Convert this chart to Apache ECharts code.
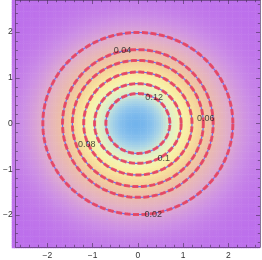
<!DOCTYPE html>
<html><head><meta charset="utf-8">
<script src="https://cdn.jsdelivr.net/npm/echarts@6/dist/echarts.min.js"></script>
<style>html,body{margin:0;padding:0;background:#fff}#c{width:262px;height:260px}</style>
</head><body><div id="c"></div>
<script>
// ---- data ----
const majorTicks = [-2, -1, 0, 1, 2];
const minorTicks = [-2.6,-2.4,-2.2,-1.8,-1.6,-1.4,-1.2,-0.8,-0.6,-0.4,-0.2,0.2,0.4,0.6,0.8,1.2,1.4,1.6,1.8,2.2,2.4,2.6];
const contourLevels  = [0.02, 0.04, 0.06, 0.08, 0.1, 0.12];
const contourRadiusX = [2.10, 1.665, 1.447, 1.197, 0.957, 0.707];
const contourRadiusY = [1.99, 1.615, 1.38, 1.125, 0.871, 0.654];
const labelText = ['0.04', '0.12', '0.06', '0.08', '0.1', '0.02'];
const labelX    = [-0.34, 0.36, 1.50, -1.13, 0.57, 0.34];
const labelY    = [1.59, 0.56, 0.11, -0.46, -0.76, -1.99];
// bivariate normal density shown as background (parameters estimated from the contours)
const densityPeak = 0.149, densitySigmaX = 1.07, densitySigmaY = 1.0;
const axisMin = -2.7, axisMax = 2.7, cellStep = 0.05;

const nCells = Math.round((axisMax - axisMin) / cellStep);
const cellCenters = [];
for (let i = 0; i < nCells; i++) cellCenters.push(+(axisMin + cellStep * (i + 0.5)).toFixed(4));
const field = [];
cellCenters.forEach((x, i) => cellCenters.forEach((y, j) => {
  field.push([i, j, densityPeak * Math.exp(-x * x / (2 * densitySigmaX * densitySigmaX) - y * y / (2 * densitySigmaY * densitySigmaY))]);
}));

const frameColor = 'rgba(70,45,85,0.6)';
const font = 'Liberation Sans';
function valAxis(pos, ticks, len, showLine, showLabel) {
  return {
    type: 'value', gridIndex: 0, position: pos, min: axisMin, max: axisMax, z: 10,
    axisLine: { show: showLine, onZero: false, lineStyle: { color: frameColor, width: 1 } },
    axisTick: { show: true, inside: true, length: len, customValues: ticks, lineStyle: { color: frameColor, width: 1 } },
    axisLabel: { show: showLabel, customValues: majorTicks, color: '#333', fontSize: 8.5, fontFamily: font,
      margin: (pos === 'bottom' ? 4 : 3), formatter: v => String(v).replace('-', '\u2212') },
    splitLine: { show: false }, minorTick: { show: false }
  };
}

const chart = echarts.init(document.getElementById('c'), null, { renderer: 'canvas' });
chart.setOption({
  animation: false,
  grid: [
    { left: 12, top: 0, width: 248, height: 248 },
    { left: 12, top: 0, width: 248, height: 248 }
  ],
  xAxis: [
    valAxis('bottom', majorTicks, 4, true, true),
    valAxis('bottom', minorTicks, 2.2, false, false),
    valAxis('top', majorTicks, 4, true, false),
    valAxis('top', minorTicks, 2.2, false, false),
    { type: 'category', gridIndex: 1, data: cellCenters, show: false }
  ],
  yAxis: [
    valAxis('left', majorTicks, 4, true, true),
    valAxis('left', minorTicks, 2.2, false, false),
    valAxis('right', majorTicks, 4, true, false),
    valAxis('right', minorTicks, 2.2, false, false),
    { type: 'category', gridIndex: 1, data: cellCenters, show: false }
  ],
  visualMap: {
    type: 'continuous', show: false, min: 0, max: 0.15, seriesIndex: 0,
    inRange: { color: ['#bc6eec','#cc8ee6','#dba6d4','#e4b2c0','#eabab0','#efc3a4','#f3ce9c','#f6da9c',
                       '#f8e6a0','#f8efa6','#f2f3b4','#e6f1c2','#d6ebce','#b0d8e4','#8ec4ec','#70b2ec'] }
  },
  series: [
    { type: 'heatmap', xAxisIndex: 4, yAxisIndex: 4, data: field, progressive: 0, silent: true, z: 1 },
    {
      type: 'custom', xAxisIndex: 0, yAxisIndex: 0, z: 5, silent: true, clip: false,
      data: contourLevels.map((l, i) => [contourRadiusX[i], contourRadiusY[i], l]),
      renderItem: function (params, api) {
        const rx = api.value(0), ry = api.value(1);
        const pts = [];
        for (let k = 0; k <= 240; k++) {
          const t = k / 240 * 2 * Math.PI;
          pts.push(api.coord([rx * Math.cos(t), ry * Math.sin(t)]));
        }
        return { type: 'group', children: [
          { type: 'polyline', shape: { points: pts }, style: { stroke: '#7070ee', lineWidth: 1.2, fill: 'none' } },
          { type: 'polyline', shape: { points: pts }, style: { stroke: 'rgba(234,66,92,0.9)', lineWidth: 3, lineDash: [6, 2.5], fill: 'none' } }
        ] };
      }
    },
    {
      type: 'scatter', xAxisIndex: 0, yAxisIndex: 0, z: 6, silent: true, symbolSize: 1,
      itemStyle: { color: 'rgba(0,0,0,0)' },
      data: labelX.map((x, i) => [x, labelY[i], labelText[i]]),
      label: { show: true, position: 'inside', formatter: p => p.value[2], color: '#222', fontSize: 9, fontFamily: font }
    }
  ]
});
</script></body></html>
